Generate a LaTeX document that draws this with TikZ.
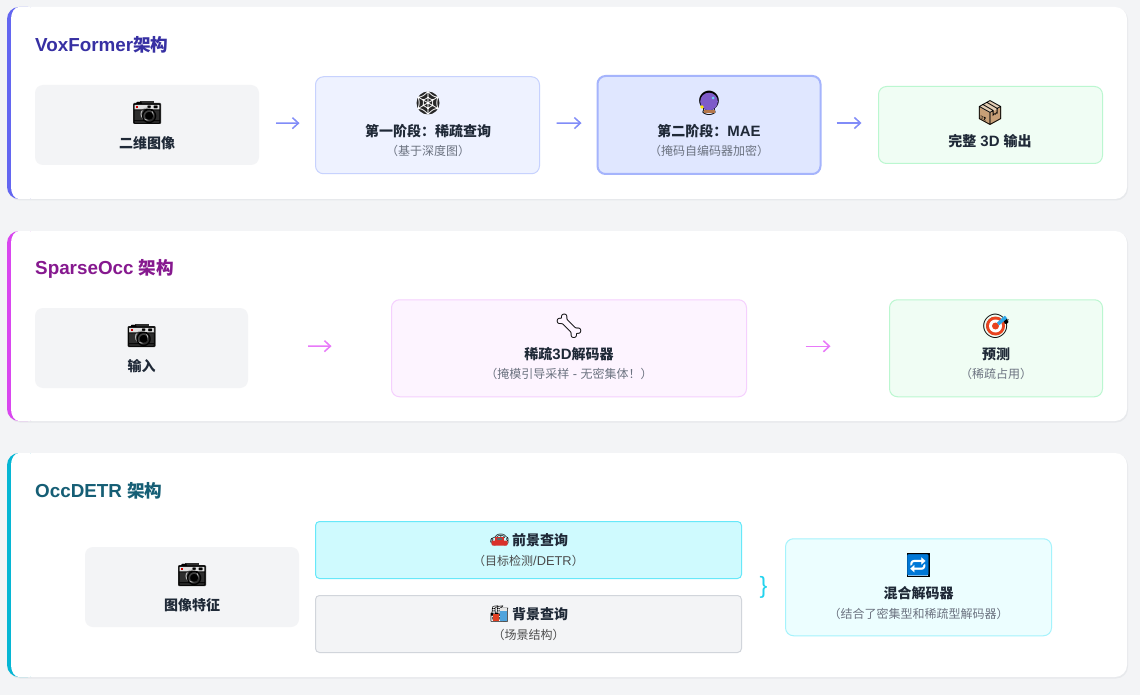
\documentclass[tikz,border=0pt]{standalone}
\usepackage{fontspec}
\setmainfont[Scale=1.07]{Liberation Sans}
\newfontfamily\zhfont{Noto Sans CJK SC}
\newfontfamily\emojifont{Noto Emoji}
\newcommand{\zh}[1]{{\zhfont #1}}
\usetikzlibrary{arrows.meta}
\definecolor{pagebg}{HTML}{F3F4F6}
\definecolor{shadowc}{HTML}{E7E9EC}
\definecolor{inkc}{HTML}{1F2937}
\definecolor{subc}{HTML}{6B7280}
\definecolor{indigoc}{HTML}{6366F1}
\definecolor{fuchsiac}{HTML}{D946EF}
\definecolor{cyanc}{HTML}{06B6D4}
\definecolor{ballc}{HTML}{7E5BC9}
\definecolor{basec}{HTML}{B5774A}
\definecolor{cartonc}{HTML}{C8A077}
\definecolor{cartontop}{HTML}{E2CDB3}
\definecolor{targetc}{HTML}{E8431F}
\definecolor{dartc}{HTML}{2FA8E8}
\definecolor{carc}{HTML}{D9302A}
\definecolor{towerc}{HTML}{4FA3DC}
\definecolor{repeatc}{HTML}{0078D7}
\tikzset{
  box/.style={inner sep=0pt, outer sep=0pt, rounded corners=8pt, line width=1pt},
  grayb/.style={box, fill=pagebg},
  indigob/.style={box, fill={rgb,255:red,238;green,242;blue,255}, draw={rgb,255:red,199;green,210;blue,254}},
  maeb/.style={box, fill={rgb,255:red,224;green,231;blue,255}, draw={rgb,255:red,165;green,180;blue,252}, line width=2pt},
  greenb/.style={box, fill={rgb,255:red,240;green,253;blue,244}, draw={rgb,255:red,187;green,247;blue,208}},
  pinkb/.style={box, fill={rgb,255:red,253;green,244;blue,255}, draw={rgb,255:red,245;green,208;blue,254}},
  fgb/.style={box, rounded corners=4pt, fill={rgb,255:red,207;green,250;blue,254}, draw={rgb,255:red,103;green,232;blue,249}},
  bgb/.style={box, rounded corners=4pt, fill=pagebg, draw={rgb,255:red,209;green,213;blue,219}},
  mixb/.style={box, fill={rgb,255:red,236;green,254;blue,255}, draw={rgb,255:red,165;green,243;blue,252}},
  ttl/.style={anchor=west, inner sep=0pt, font=\fontsize{17.6}{20}\selectfont\bfseries},
  lbl/.style={inner sep=0pt, text=inkc, font=\fontsize{14}{16}\selectfont\bfseries},
  sub/.style={inner sep=0pt, text=subc, font=\fontsize{12}{14}\selectfont},
  ico/.style={inner sep=0pt, text=black, font=\fontsize{24}{26}\selectfont\emojifont},
  arw/.style={-{Straight Barb[length=6pt,width=11pt]}, line width=1.5pt},
  arwv/.style={arw, draw={rgb,255:red,129;green,140;blue,248}},
  arws/.style={arw, draw={rgb,255:red,232;green,121;blue,249}},
  cam/.pic={
    \fill[rounded corners=1pt, black!82] (-14,-10) rectangle (14,11);
    \fill[black!12] (-13,-8) rectangle (13,-3);
    \fill[black!82] (-7,-12) rectangle (7,-9);
    \fill[red!80!black] (-11,-7) rectangle (-9,-5);
    \draw[black!30, fill=black!75, line width=1pt] (0,1) circle (6);
  },
}
\begin{document}
\begin{tikzpicture}[x=1pt,y=-1pt]
  \useasboundingbox (0,0) rectangle (1140,695);
  \fill[pagebg] (0,0) rectangle (1140,695);
  % cards
  \foreach \ya/\yb/\cc in {7/199/indigoc,231/421/fuchsiac,453/677/cyanc} {
    \fill[shadowc, rounded corners=12pt] (8,\ya+1) rectangle (1128,\yb+1.5);
    \fill[\cc, rounded corners=12pt] (7,\ya) rectangle (40,\yb);
    \fill[white, rounded corners=12pt] (20,\ya) rectangle (1127,\yb);
    \fill[white] (11,\ya+12) .. controls (11,\ya+5.4) and (14.6,\ya) .. (19,\ya)
      -- (30,\ya) -- (30,\yb) -- (19,\yb) .. controls (14.6,\yb) and (11,\yb-5.4) .. (11,\yb-12) -- cycle;
  }

  % VoxFormer
  \node[ttl, text={rgb,255:red,55;green,48;blue,163}] (vtitle) at (35,45) {VoxFormer\zh{架构}};
  \node[grayb, minimum width=224, minimum height=80] (vinput) at (147,125) {};
  \node[indigob, minimum width=224, minimum height=97] (vsparse) at (427.5,125.25) {};
  \node[maeb, minimum width=223, minimum height=98] (vmae) at (709,125) {};
  \node[greenb, minimum width=224, minimum height=77] (voutput) at (990.5,125) {};
  \draw[arwv, shorten <=17pt, shorten >=16pt] ([yshift=2pt]vinput.east) -- ([yshift=2pt]vsparse.west);
  \draw[arwv, shorten <=17pt, shorten >=16pt] ([yshift=2pt]vsparse.east) -- ([yshift=2pt]vmae.west);
  \draw[arwv, shorten <=16pt, shorten >=17pt] ([yshift=2pt]vmae.east) -- ([yshift=2pt]voutput.west);
  \pic at (147,113) {cam};
  \node[ico] (vinputi) at (147,113) {📷};
  \node[lbl] (vinputl) at (147,143) {\zh{二维图像}};
  \fill[black!85] (428,103) circle (11.5);
  \node[ico, text=white] (vsparsei) at (428,103) {🕸};
  \node[lbl] (vsparsel) at (428,131) {\zh{第一阶段：稀疏查询}};
  \node[sub] (vsparses) at (428,151) {\zh{（基于深度图）}};
  \node[ico] (vmaei) at (709,103) {🔮};
  \fill[ballc] (709,101.5) circle (8.8);
  \fill[basec] (703.5,110.5) rectangle (714.5,113.5);
  \fill[cyan!60] (713,98) circle (1.5);
  \fill[yellow!90!orange] (702,107) circle (1.8);
  \node[lbl] (vmael) at (709,131) {\zh{第二阶段：}MAE};
  \node[sub] (vmaes) at (709,151) {\zh{（掩码自编码器加密）}};
  \fill[cartonc] (990,101) -- (1001,107) -- (1001,119) -- (990,125) -- (979,119) -- (979,107) -- cycle;
  \fill[cartontop] (990,101) -- (1001,107) -- (990,113) -- (979,107) -- cycle;
  \node[ico] (voutputi) at (990,113) {📦};
  \node[lbl] (voutputl) at (990,141) {\zh{完整} 3D \zh{输出}};

  % SparseOcc
  \node[ttl, text={rgb,255:red,134;green,25;blue,143}] (stitle) at (35,269) {SparseOcc \zh{架构}};
  \node[grayb, minimum width=213, minimum height=80] (sinput) at (141.5,348) {};
  \node[pinkb, minimum width=355, minimum height=97] (sdecoder) at (569,348.25) {};
  \node[greenb, minimum width=213, minimum height=97] (spred) at (996,348.25) {};
  \draw[arws, shorten <=60pt, shorten >=60pt] ([yshift=2pt]sinput.east) -- ([yshift=2pt]sdecoder.west);
  \draw[arws, shorten <=59pt, shorten >=59pt] ([yshift=2pt]sdecoder.east) -- ([yshift=2pt]spred.west);
  \pic at (141.5,336) {cam};
  \node[ico] (sinputi) at (141.5,336) {📷};
  \node[lbl] (sinputl) at (141.5,366) {\zh{输入}};
  \node[ico] (sdecoderi) at (569,326) {🦴};
  \node[lbl] (sdecoderl) at (569,354) {\zh{稀疏}3D\zh{解码器}};
  \node[sub] (sdecoders) at (569,374) {\zh{（掩模引导采样} - \zh{无密集体！）}};
  \node[ico] (spredi) at (996,326) {🎯};
  \fill[targetc] (995.5,326) circle (9.5);
  \fill[white] (995.5,326) circle (6.5);
  \fill[targetc] (995.5,326) circle (3.5);
  \draw[dartc, line width=3.5pt] (998,324) -- (1006,317);
  \node[lbl] (spredl) at (996,354) {\zh{预测}};
  \node[sub] (spreds) at (996,374) {\zh{（稀疏占用）}};

  % OccDETR
  \node[ttl, text={rgb,255:red,21;green,94;blue,117}] (otitle) at (35,491) {OccDETR \zh{架构}};
  \node[grayb, minimum width=214, minimum height=80] (oinput) at (192,587) {};
  \node[fgb, minimum width=426, minimum height=57] (ofg) at (528.5,550) {};
  \node[bgb, minimum width=426, minimum height=57] (obg) at (528.5,624) {};
  \node[mixb, minimum width=266, minimum height=97] (omix) at (918.5,587.25) {};
  \pic at (192,575) {cam};
  \node[ico] (oinputi) at (192,575) {📷};
  \node[lbl] (oinputl) at (192,605) {\zh{图像特征}};
  \node[ico, font=\fontsize{16}{18}\selectfont\emojifont] (ofgi) at (499.5,540) {🚗};
  \fill[carc, rounded corners=1pt] (491.5,540.5) rectangle (507.5,545.5);
  \fill[carc] (495,536.5) rectangle (504,541);
  \fill[black!60] (497,537.5) rectangle (502,540);
  \node[lbl] (ofgl) at (540,540) {\zh{前景查询}};
  \node[sub, text=black!70] (ofgs) at (528.5,561) {\zh{（目标检测}/DETR\zh{）}};
  \node[ico, font=\fontsize{16}{18}\selectfont\emojifont] (obgi) at (499.5,614) {🏭};
  \fill[towerc] (499.5,611) rectangle (506.5,621);
  \fill[carc!80!orange] (492.5,614) rectangle (499,621);
  \fill[black!10] (499.5,608) rectangle (506.5,611);
  \node[lbl] (obgl) at (540,614) {\zh{背景查询}};
  \node[sub, text=black!70] (obgs) at (528.5,635) {\zh{（场景结构）}};
  \node[inner sep=0pt, text={rgb,255:red,34;green,211;blue,238}, font=\fontsize{22}{24}\selectfont] (obrace) at (763.5,587) {\}};
  \fill[black] (906.5,553) rectangle (929.5,577);
  \fill[white] (908,554.5) rectangle (928,575.5);
  \node[ico, text=repeatc, font=\fontsize{21}{23}\selectfont\emojifont] (omixi) at (918,565) {🔁};
  \node[lbl] (omixl) at (918.5,593) {\zh{混合解码器}};
  \node[sub] (omixs) at (918.5,614) {\zh{（结合了密集型和稀疏型解码器）}};
\end{tikzpicture}
\end{document}
